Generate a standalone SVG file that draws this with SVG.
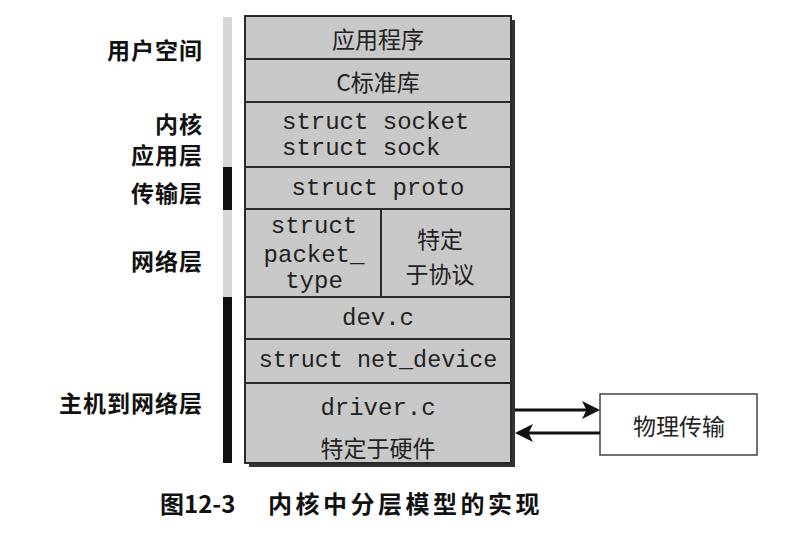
<svg xmlns="http://www.w3.org/2000/svg" width="792" height="540" viewBox="0 0 792 540">
<style>
.lbl{font-family:"Noto Sans CJK SC","Noto Sans",sans-serif;font-size:23px;font-weight:bold;fill:#111;text-anchor:end;dominant-baseline:central;letter-spacing:1px}
.cell{fill:#c8c8c8;stroke:#2a2a2a;stroke-width:2}
.cn{font-family:"Noto Sans CJK SC",sans-serif;font-size:23px;fill:#222;text-anchor:middle;dominant-baseline:central}
.mono{font-family:"Liberation Mono",monospace;font-size:24px;fill:#222;text-anchor:middle;dominant-baseline:central}
.con{stroke:#111;stroke-width:3;fill:none}
.cap{font-family:"Noto Sans CJK SC",sans-serif;font-size:24px;font-weight:bold;fill:#111;dominant-baseline:central}
</style>
<defs>
<marker id="ah" markerWidth="6" markerHeight="6" refX="5" refY="3" orient="auto" markerUnits="strokeWidth">
<path d="M0,0 L6,3 L0,6 L1.5,3 Z" fill="#111"/>
</marker>
</defs>
<rect width="792" height="540" fill="#fff"/>
<g id="sidebar">
<rect x="223" y="17" width="9" height="150" fill="#d6d6d6"/>
<rect x="223" y="167" width="9" height="43" fill="#111"/>
<rect x="223" y="210" width="9" height="87" fill="#d6d6d6"/>
<rect x="223" y="297" width="9" height="166" fill="#111"/>
</g>
<g id="labels">
<text class="lbl" x="203" y="49">用户空间</text>
<text class="lbl" x="203" y="123">内核</text>
<text class="lbl" x="203" y="154">应用层</text>
<text class="lbl" x="203" y="192">传输层</text>
<text class="lbl" x="203" y="260">网络层</text>
<text class="lbl" x="203" y="402">主机到网络层</text>
</g>
<g id="shadow">
<rect x="249" y="20" width="266" height="447" fill="#333"/>
</g>
<g id="app"><rect class="cell" x="245" y="16" width="266" height="43"/><text class="cn" x="378" y="38">应用程序</text></g>
<g id="libc"><rect class="cell" x="245" y="59" width="266" height="43"/><text class="cn" x="378" y="81">C标准库</text></g>
<g id="socket"><rect class="cell" x="245" y="102" width="266" height="65"/><text class="mono" x="282" y="122" style="text-anchor:start">struct socket</text><text class="mono" x="282" y="148" style="text-anchor:start">struct sock</text></g>
<g id="proto"><rect class="cell" x="245" y="167" width="266" height="42"/><text class="mono" x="378" y="188">struct proto</text></g>
<g id="packet"><rect class="cell" x="245" y="209" width="136" height="88"/><text class="mono" x="314" y="226">struct</text><text class="mono" x="314" y="255">packet_</text><text class="mono" x="314" y="281">type</text></g>
<g id="proto-specific"><rect class="cell" x="381" y="209" width="130" height="88"/><text class="cn" x="440" y="238">特定</text><text class="cn" x="440" y="273">于协议</text></g>
<g id="devc"><rect class="cell" x="245" y="297" width="266" height="42"/><text class="mono" x="378" y="318">dev.c</text></g>
<g id="netdev"><rect class="cell" x="245" y="339" width="266" height="44"/><text class="mono" x="378" y="361" style="font-size:23.4px">struct net_device</text></g>
<g id="driver"><rect class="cell" x="245" y="383" width="266" height="80"/><text class="mono" x="378" y="408">driver.c</text><text class="cn" x="378" y="447">特定于硬件</text></g>
<g id="phys"><rect x="600" y="394" width="157" height="61" fill="#fff" stroke="#444" stroke-width="1.5"/><text class="cn" x="679" y="425">物理传输</text></g>
<g id="connectors">
<line class="con" x1="515" y1="410" x2="597" y2="410" marker-end="url(#ah)"/>
<line class="con" x1="600" y1="433" x2="518" y2="433" marker-end="url(#ah)"/>
</g>
<g id="caption">
<text class="cap" x="160" y="502">图12-3</text>
<text class="cap" x="268" y="502" style="letter-spacing:3.5px">内核中分层模型的实现</text>
</g>
</svg>
